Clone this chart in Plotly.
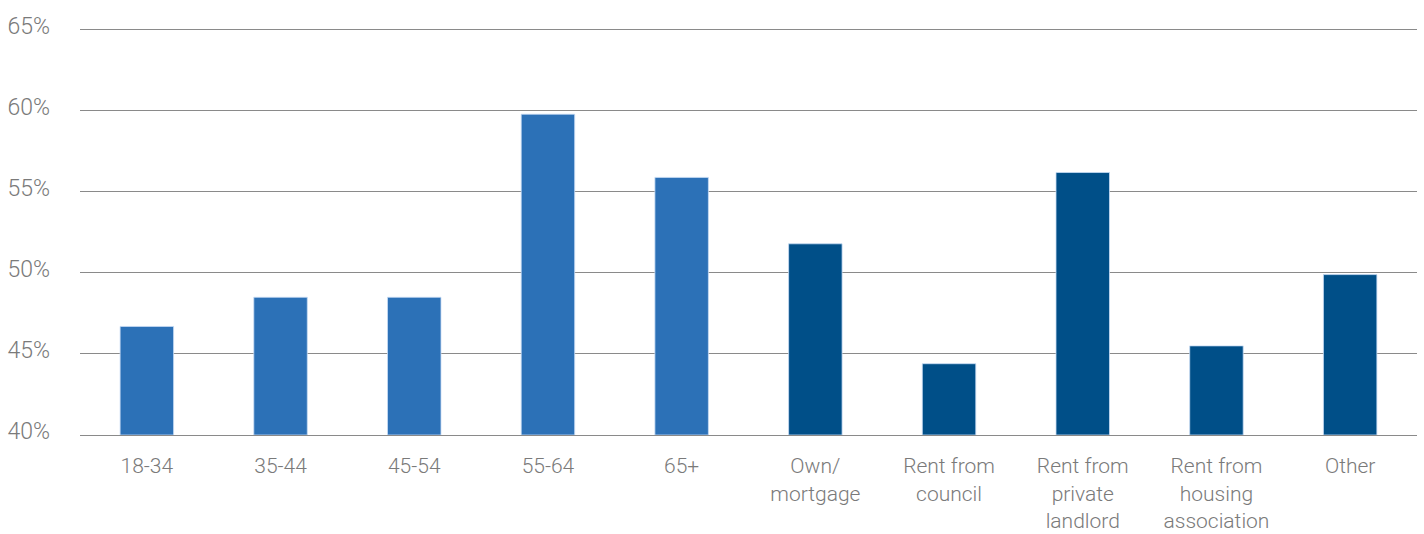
import plotly.graph_objects as go

categories = ["18-34", "35-44", "45-54", "55-64", "65+",
              "Own/<br>mortgage", "Rent from<br>council", "Rent from<br>private<br>landlord",
              "Rent from<br>housing<br>association", "Other"]
values = [46.7, 48.5, 48.5, 59.8, 55.9, 51.8, 44.4, 56.2, 45.5, 49.9]
groups = ["age"] * 5 + ["tenure"] * 5
tick_vals = [40, 45, 50, 55, 60, 65]
tick_text = ["40%", "45%", "50%", "55%", "60%", "65%"]

color_map = {"age": "#2c71b7", "tenure": "#004f88"}
colors = [color_map[g] for g in groups]

fig = go.Figure()
fig.add_trace(go.Bar(
    x=categories, y=[v - 40 for v in values], base=40,
    marker=dict(color=colors, line=dict(color="rgba(200,220,245,0.8)", width=1)),
    hoverinfo="skip",
))

fig.update_layout(
    width=1424, height=534,
    margin=dict(l=80, r=7, t=28, b=99),
    paper_bgcolor="white", plot_bgcolor="white",
    bargap=0.6, showlegend=False,
    font=dict(family="Roboto", weight=300, size=23, color="#7a7a7a"),
)
fig.update_yaxes(
    range=[40, 65.12], tickvals=tick_vals, ticktext=tick_text,
    showgrid=True, gridcolor="#8a8a8a", gridwidth=1,
    zeroline=False, showline=False, ticks="",
    ticklabelstandoff=29, ticklabelshift=-4, automargin=False,
)
fig.update_xaxes(
    showgrid=False, showline=True, linecolor="#8a8a8a", linewidth=1,
    ticks="", ticklabelstandoff=12, automargin=False,
    tickfont=dict(family="Roboto", weight=300, size=21, color="#7a7a7a"),
)
fig.write_html("out.html")
